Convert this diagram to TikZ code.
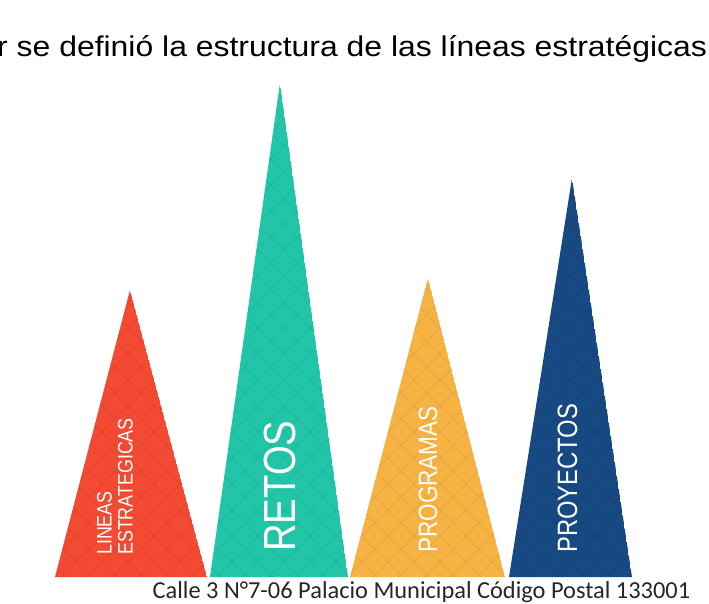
\documentclass[tikz,border=0pt]{standalone}
\usepackage{graphicx}
\usepackage{fontspec}
\setmainfont{Liberation Sans}
\newfontfamily\calle{Carlito}
\usepackage{color}

\definecolor{rojo}{HTML}{F34A33}
\definecolor{verde}{HTML}{22C5A8}
\definecolor{naranja}{HTML}{F6B243}
\definecolor{azul}{HTML}{174A82}
\newcommand\angosto[1]{\scalebox{.85}[1]{#1}}

\begin{document}
\begin{tikzpicture}[x=1pt,y=-1pt,
    rotulo/.style={text=white,rotate=90,inner sep=0pt,anchor=base west},
    malla/.style={black,opacity=.045,line width=1.2pt}]
    \useasboundingbox (0,0) rectangle (709,604);

    % titulo cortado arriba
    \node[anchor=base west,inner sep=0pt,xscale=1.12,font=\fontsize{28.5}{28.5}\selectfont] (titulo) at (-3,57)
        {r se definió la estructura de las líneas estratégicas};

    % triangulos
    \foreach \col/\izq/\der/\px/\py in {rojo/55/207/130/290, verde/210/348/280/83,
                                         naranja/350/505/428/278, azul/509/632/572/178} {
        \begin{scope}
            \clip (\izq,577) -- (\px,\py) -- (\der,577) -- cycle;
            \fill[\col] (\izq,577) -- (\px,\py) -- (\der,577) -- cycle;
            \foreach \c in {-616,-590,...,720} {
                \draw[malla] (\c,0) -- ++(604,604);
                \draw[malla] (\c+604,0) -- ++(-604,604);
            }
        \end{scope}
    }

    % rotulos
    \node[rotulo,anchor=west,align=left,font=\fontsize{21}{21}\selectfont] (lineas) at (115,555)
        {\angosto{LINEAS}\\\angosto{ESTRATEGICAS}};
    \node[rotulo,font=\fontsize{45}{45}\selectfont] (retos) at (295,552) {\angosto{RETOS}};
    \node[rotulo,font=\fontsize{26.5}{26.5}\selectfont] (programas) at (437,553) {\angosto{PROGRAMAS}};
    \node[rotulo,font=\fontsize{28}{28}\selectfont] (proyectos) at (577,553) {\angosto{PROYECTOS}};

    % pie
    \node[anchor=base,inner sep=0pt,text=black!85,font=\calle\fontsize{24.4}{24.4}\selectfont] (direccion) at (421.5,598)
        {Calle 3 N°7-06 Palacio Municipal Código Postal 133001};
\end{tikzpicture}
\end{document}
